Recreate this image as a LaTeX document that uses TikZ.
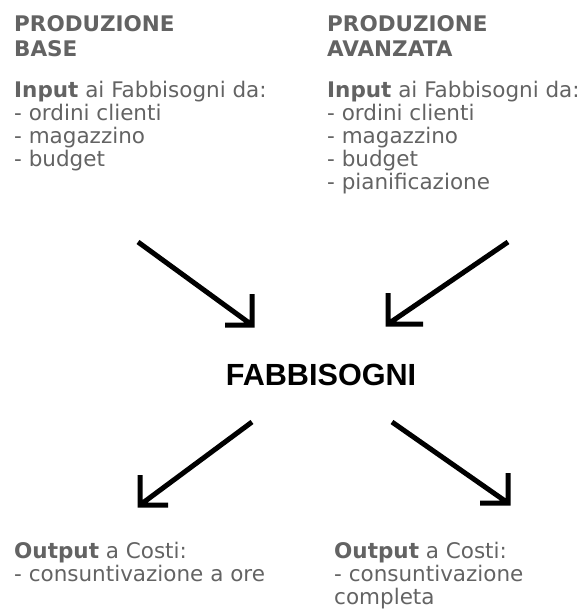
\documentclass[tikz,border=0pt]{standalone}
\usepackage{fontspec}
\setmainfont{DejaVu Sans}
\newfontfamily\fabfont{Liberation Sans}
\definecolor{cgray}{RGB}{99,99,99}

\begin{document}
\begin{tikzpicture}[x=1pt,y=-1pt,
  head node/.style={anchor=base west,inner sep=0pt,align=left,text=cgray,
        font=\fontsize{21.5}{24.5}\selectfont\bfseries},
  list node/.style={anchor=base west,inner sep=0pt,align=left,text=cgray,
        font=\fontsize{21.5}{23}\selectfont},
  centre node/.style={anchor=base,inner sep=0pt,
        font=\fontsize{30.6}{34}\selectfont\fabfont\bfseries},
  arrow line/.style={line width=5pt,line join=miter}]
  \useasboundingbox (0,0) rectangle (582,614);

  % two production types on top (nodes sit on their last baseline)
  \node[head node] (hbase) at (14,56) {PRODUZIONE\\BASE};
  \node[list node] (ibase) at (14,166) {\textbf{Input} ai Fabbisogni da:\\- ordini clienti\\- magazzino\\- budget};
  \node[head node] (hadv) at (327,56) {PRODUZIONE\\AVANZATA};
  \node[list node] (iadv) at (327,189) {\textbf{Input} ai Fabbisogni da:\\- ordini clienti\\- magazzino\\- budget\\- pianificazione};

  \node[centre node] (fab) at (321,385) {FABBISOGNI};

  % outputs at the bottom
  \node[list node] (obase) at (14,581) {\textbf{Output} a Costi:\\- consuntivazione a ore};
  \node[list node] (oadv) at (334,604) {\textbf{Output} a Costi:\\- consuntivazione\\completa};

  \coordinate (in1) at (138,242);  \coordinate (tip1) at (252,325);
  \coordinate (in2) at (508,242);  \coordinate (tip2) at (388,324);
  \coordinate (out1) at (252,422); \coordinate (tip3) at (140,505);
  \coordinate (out2) at (392,422); \coordinate (tip4) at (508,503);

  % arrows with square heads
  \foreach \s/\t/\u/\h in {in1/tip1/-31/-27, in2/tip2/-31/35,
                           out1/tip3/-30/28, out2/tip4/-30/-28}
    \draw[arrow line] (\s) -- (\t) ++(0,\u) -- (\t) -- ++(\h,0);
\end{tikzpicture}
\end{document}
